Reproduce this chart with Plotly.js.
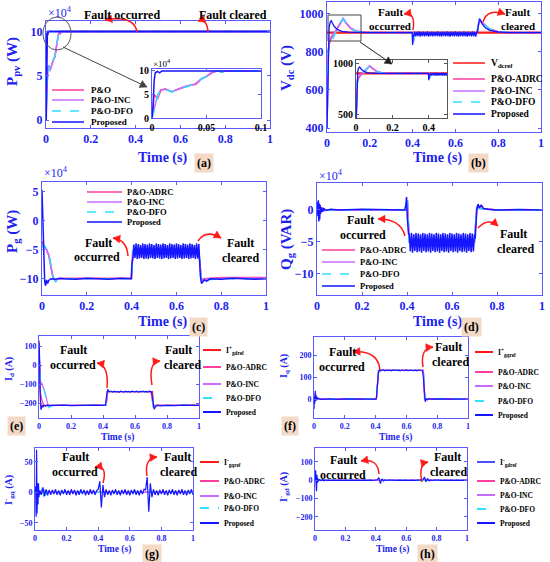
<!DOCTYPE html>
<html>
<head>
<meta charset="utf-8">
<script src="https://cdn.plot.ly/plotly-3.0.1.min.js"></script>
<style>body{margin:0;} #chart{width:550px;height:562px;}</style>
</head>
<body>
<div id="chart"></div>
<script>
// ------------------------
// shared time samples for the fault window
var tOsc = [0.410, 0.415, 0.420, 0.425, 0.430, 0.435, 0.440, 0.445, 0.450, 0.455,
  0.460, 0.465, 0.470, 0.475, 0.480, 0.485, 0.490, 0.495, 0.500, 0.505,
  0.510, 0.515, 0.520, 0.525, 0.530, 0.535, 0.540, 0.545, 0.550, 0.555,
  0.560, 0.565, 0.570, 0.575, 0.580, 0.585, 0.590, 0.595, 0.600, 0.605,
  0.610, 0.615, 0.620, 0.625, 0.630, 0.635, 0.640, 0.645, 0.650, 0.655,
  0.660, 0.665, 0.670, 0.675, 0.680, 0.685, 0.690, 0.695, 0.700];
var tFlat = [0.44, 0.45, 0.46, 0.47, 0.48, 0.49, 0.50, 0.51, 0.52, 0.53, 0.54, 0.55, 0.56, 0.57,
  0.58, 0.59, 0.60, 0.61, 0.62, 0.63, 0.64, 0.65, 0.66, 0.67, 0.68, 0.69, 0.70];

// ------------------------
// (a) PV power (x1e4 W)
var tPpv = [0, 0.001, 0.002, 0.003, 0.005, 0.007, 0.009, 0.1, 1];
var ppvProposed = [0, 2.5, 8.0, 9.6, 9.9, 9.6, 10, 10, 10];
var tPpvMppt = [0, 0.002, 0.005, 0.008, 0.012, 0.018, 0.024, 0.03, 0.035, 0.04, 0.045, 0.05, 0.055, 0.06, 0.064, 0.068, 0.075, 1];
var ppvPO = [0, 5.0, 4.0, 5.8, 6.2, 5.6, 6.1, 6.6, 7.0, 7.1, 8.2, 8.8, 9.6, 10, 9.7, 10, 10, 10];
var ppvInc = [0, 2.2, 4.8, 6.0, 6.1, 5.6, 6.1, 6.7, 6.9, 7.3, 8.3, 8.9, 9.7, 10, 9.8, 10, 10, 10];
var ppvDfo = [0, 2.0, 4.5, 6.0, 6.2, 5.5, 6.0, 6.6, 6.9, 7.2, 8.2, 8.8, 9.6, 10, 9.7, 10, 10, 10];

// ------------------------
// (b) DC link voltage (V)
var tVdcRef = [0, 1];
var vdcRef = [900, 900];
var tVdcStart = [0, 0.003, 0.006, 0.01, 0.015, 0.02, 0.025, 0.035, 0.05, 0.07, 0.1, 0.15, 0.2, 0.3, 0.398, 0.4, 0.403, 0.406];
var vdcStart = [400, 600, 800, 930, 955, 962, 950, 930, 915, 906, 902, 900, 900, 900, 900, 835, 890, 882];
var vdcOsc = [905, 880, 903, 882, 906, 879, 904, 881, 905, 880, 903, 882, 906, 879, 904, 881, 905, 880, 903, 882,
  904, 881, 906, 880, 903, 879, 905, 882, 904, 880, 906, 881, 903, 879, 905, 882, 904, 880, 906, 881,
  903, 879, 905, 882, 904, 880, 906, 881, 903, 879, 905, 882, 904, 880, 906, 881, 903, 879, 905];
var tVdcEnd = [0.703, 0.708, 0.712, 0.718, 0.725, 0.74, 0.76, 0.8, 0.85, 1];
var vdcEnd = [900, 945, 972, 965, 945, 925, 912, 903, 900, 900];
var tVdcMppt = [0, 0.003, 0.006, 0.01, 0.02, 0.04, 0.06, 0.075, 0.09, 0.11, 0.14, 0.18, 0.4, 0.403, 0.41, 0.7, 0.708, 0.715, 0.73, 0.76, 0.8, 0.85, 1];
var vdcAdrc = [400, 680, 805, 840, 870, 905, 948, 972, 948, 922, 906, 900, 900, 848, 895, 895, 942, 962, 949, 919, 905, 900, 900];
var vdcInc = [400, 650, 800, 860, 880, 910, 950, 975, 950, 925, 908, 900, 900, 850, 895, 895, 940, 960, 948, 918, 904, 900, 900];
var vdcDfo = [400, 700, 810, 820, 850, 900, 945, 970, 945, 920, 905, 900, 900, 850, 895, 895, 945, 965, 950, 920, 905, 900, 900];

// ------------------------
// (c) grid active power (x1e4 W)
var tPgStart = [0, 0.002, 0.005, 0.008, 0.012, 0.016, 0.02, 0.025, 0.03, 0.04, 0.06, 0.08, 0.1, 0.15, 0.2, 0.25, 0.3, 0.35, 0.398, 0.402, 0.406];
var pgStart = [5.3, 2, -3, -8, -10.5, -11.2, -10.2, -10.8, -10.3, -10.0, -10.1, -9.9, -10.0, -10.1, -9.9, -10.0, -10.1, -9.9, -10.0, -7.2, -6.5];
var pgOsc = [-4.1, -6.4, -3.9, -6.6, -4.0, -6.5, -4.2, -6.4, -3.9, -6.6, -4.0, -6.5, -4.1, -6.6, -3.9, -6.4, -4.0, -6.5, -4.2, -6.6,
  -3.9, -6.4, -4.0, -6.5, -4.1, -6.6, -3.9, -6.5, -4.0, -6.4, -4.2, -6.6, -3.9, -6.5, -4.0, -6.4, -4.1, -6.6, -3.9, -6.5,
  -4.0, -6.4, -4.2, -6.6, -3.9, -6.5, -4.0, -6.4, -4.1, -6.6, -3.9, -6.5, -4.0, -6.4, -4.2, -6.6, -3.9, -6.5, -4.0];
var tPgEnd = [0.703, 0.707, 0.712, 0.718, 0.725, 0.735, 0.75, 0.8, 0.85, 0.9, 0.95, 1];
var pgEnd = [-7.5, -9.5, -10.8, -10.5, -10.2, -10.4, -10.0, -10.1, -9.9, -10.0, -10.1, -10.0];
var tPgMppt = [0, 0.003, 0.006, 0.01, 0.02, 0.03, 0.04, 0.05, 0.06, 0.07, 0.1, 0.4, 0.405, 0.7, 0.712, 0.72, 0.8, 1];
var pgAdrc = [-3.5, -4.0, -4.4, -4.5, -5.0, -6.0, -8.0, -10.0, -10.3, -10.0, -9.9, -9.9, -5.2, -5.2, -10.3, -10.0, -9.8, -9.8];
var pgInc = [-4.0, -4.2, -4.6, -4.4, -4.9, -5.8, -7.8, -9.8, -10.4, -10.1, -10.0, -10.0, -5.2, -5.2, -10.4, -10.1, -9.9, -9.9];
var pgDfo = [-4.5, -4.3, -4.5, -4.2, -4.8, -5.5, -7.5, -9.5, -10.5, -10.2, -10.0, -10.0, -5.2, -5.2, -10.5, -10.2, -10.0, -10.0];

// ------------------------
// (d) grid reactive power (x1e4 VAR)
var tQgStart = [0, 0.002, 0.004, 0.006, 0.008, 0.010, 0.012, 0.014, 0.016, 0.02, 0.025, 0.03, 0.04, 0.06, 0.1, 0.2, 0.3, 0.39, 0.395, 0.398, 0.401, 0.404, 0.407];
var qgStart = [0, 1.2, -1.0, 1.5, -1.8, 1.0, -1.5, 0.8, -0.6, 0.4, -0.3, 0.2, -0.1, 0.1, 0, 0.1, 0, 0, 0.8, 2.0, -1.0, -2.5, -3.8];
var qgOsc = [-3.7, -6.5, -3.6, -6.7, -3.8, -6.4, -3.6, -6.6, -3.7, -6.5, -3.8, -6.7, -3.6, -6.4, -3.7, -6.6, -3.8, -6.5, -3.6, -6.7,
  -3.7, -6.4, -3.8, -6.6, -3.6, -6.5, -3.7, -6.7, -3.8, -6.4, -3.6, -6.6, -3.7, -6.5, -3.8, -6.7, -3.6, -6.4, -3.7, -6.6,
  -3.8, -6.5, -3.6, -6.7, -3.7, -6.4, -3.8, -6.6, -3.6, -6.5, -3.7, -6.7, -3.8, -6.4, -3.6, -6.6, -3.7, -6.5, -3.8];
var tQgEnd = [0.703, 0.707, 0.711, 0.716, 0.722, 0.73, 0.74, 0.76, 0.8, 0.9, 1];
var qgEnd = [-4.5, -2.0, 0.2, 0.9, 0.3, 0.8, 0.2, 0.1, 0, 0.05, 0];
var tQgMppt = [0, 0.005, 0.01, 0.02, 0.04, 0.398, 0.402, 0.41, 0.7, 0.71, 0.72, 0.8, 1];
var qgAdrc = [0, 0.6, -0.5, 0.3, 0, 0, 1.4, -5, -5, 0.4, 0.3, 0, 0];
var qgInc = [0, -0.4, 0.5, -0.3, 0, 0, 1.5, -5, -5, 0.5, 0.2, 0, 0];
var qgDfo = [0, -0.5, 0.4, -0.2, 0, 0, 1.5, -5, -5, 0.5, 0.2, 0, 0];

// ------------------------
// (e) d-axis current (A)
var tIdRef = [0, 0.004, 0.01, 0.42, 0.425, 0.71, 0.715, 1];
var idRef = [130, -100, -212, -212, -140, -140, -212, -212];
var tIdStart = [0, 0.003, 0.006, 0.009, 0.012, 0.015, 0.02, 0.025, 0.03, 0.04, 0.05, 0.07, 0.1, 0.15, 0.2, 0.25, 0.3, 0.35, 0.4, 0.415, 0.42, 0.425, 0.43, 0.435];
var idStart = [120, 60, -120, -200, -235, -228, -215, -222, -212, -216, -211, -214, -213, -211, -214, -212, -213, -211, -213, -212, -175, -135, -128, -138];
var idFlat = [-140, -137, -142, -138, -141, -139, -143, -137, -140, -142, -138, -141, -139, -142, -137, -140, -141, -138, -142, -139,
  -140, -137, -141, -139, -142, -138, -140];
var tIdEnd = [0.705, 0.71, 0.715, 0.72, 0.725, 0.73, 0.74, 0.76, 0.8, 0.85, 0.9, 0.95, 1];
var idEnd = [-150, -175, -215, -232, -225, -218, -213, -215, -212, -214, -211, -213, -212];
var tIdMppt = [0, 0.005, 0.01, 0.02, 0.03, 0.04, 0.05, 0.06, 0.08, 0.42, 0.43, 0.7, 0.715, 0.73, 1];
var idAdrc = [100, -20, -150, -190, -210, -215, -214, -213, -212, -212, -140, -140, -220, -212, -212];
var idInc = [80, -40, -90, -100, -120, -150, -190, -220, -212, -212, -140, -140, -222, -212, -212];
var idDfo = [60, -60, -100, -105, -125, -160, -195, -225, -212, -212, -140, -140, -225, -212, -212];

// ------------------------
// (f) q-axis current (A)
var tIqRef = [0, 0.405, 0.418, 0.71, 0.718, 1];
var iqRef = [0, 0, 130, 130, 0, 0];
var tIqStart = [0, 0.002, 0.005, 0.008, 0.011, 0.014, 0.018, 0.022, 0.03, 0.05, 0.1, 0.15, 0.2, 0.25, 0.3, 0.35, 0.4, 0.405, 0.412, 0.418, 0.425, 0.43, 0.435];
var iqStart = [-45, 10, -20, 38, -8, 15, -5, 6, 2, -1, 1, -1, 1, 0, -1, 1, 0, 2, 60, 118, 132, 128, 131];
var iqFlat = [130, 133, 128, 131, 129, 132, 128, 131, 130, 133, 129, 131, 128, 132, 130, 129, 133, 128, 131, 130,
  132, 129, 131, 128, 132, 130, 129];
var tIqEnd = [0.705, 0.71, 0.716, 0.722, 0.728, 0.735, 0.745, 0.76, 0.8, 0.9, 1];
var iqEnd = [128, 100, 30, -12, 2, -4, 2, 0, 1, -1, 0];
var tIqMppt = [0, 0.01, 0.02, 0.405, 0.42, 0.71, 0.72, 1];
var iqAdrc = [0, 25, 0, 0, 130, 130, 0, 0];
var iqInc = [0, 20, 0, 0, 130, 130, 0, 0];
var iqDfo = [0, 15, 0, 0, 130, 130, 0, 0];

// ------------------------
// (g), (h) negative sequence currents (A)
var tNegRef = [0, 1];
var negRef = [0, 0];
var tNegStart = [0, 0.004, 0.007, 0.010, 0.013, 0.016, 0.019, 0.022, 0.025];
var gqStart = [0, 10, -40, 70, -35, 15, -20, 15, -8];
var gdStart = [0, 55, -20, -60, 30, -15, 10, -5, 3];
var tNeg = [0.03, 0.04, 0.05, 0.06, 0.07, 0.08, 0.09, 0.10,
  0.11, 0.12, 0.13, 0.14, 0.15, 0.16, 0.17, 0.18, 0.19, 0.20,
  0.21, 0.22, 0.23, 0.24, 0.25, 0.26, 0.27, 0.28, 0.29, 0.30,
  0.31, 0.32, 0.33, 0.34, 0.35, 0.36, 0.37, 0.38, 0.39, 0.40,
  0.41, 0.42, 0.43, 0.44, 0.45, 0.46, 0.47, 0.48, 0.49, 0.50,
  0.51, 0.52, 0.53, 0.54, 0.55, 0.56, 0.57, 0.58, 0.59, 0.60,
  0.61, 0.62, 0.63, 0.64, 0.65, 0.66, 0.67, 0.68, 0.69, 0.70,
  0.71, 0.72, 0.73, 0.74, 0.75, 0.76, 0.77, 0.78, 0.79, 0.80,
  0.81, 0.82, 0.83, 0.84, 0.85, 0.86, 0.87, 0.88, 0.89, 0.90,
  0.91, 0.92, 0.93, 0.94, 0.95, 0.96, 0.97, 0.98, 0.99, 1.00];
var gqNoise = [3, -4, 8, -6, 5, -5, 4, -4,
  4, -3, 5, -4, 3, -5, 4, -3, 5, -4,
  3, -4, 5, -3, 4, -5, 3, -4, 5, -3,
  4, -5, 3, -4, 5, -3, 4, -4, 3, 5,
  18, -25, 12, -8, 5, -4, 3, -5, 4, -3,
  5, -4, 3, -5, 4, -3, 5, -4, 3, -5,
  4, -3, 5, -4, 3, -5, 4, -3, 5, 4,
  25, -32, 15, -8, 5, -4, 3, -5, 4, -3,
  5, -4, 3, -5, 4, -3, 5, -4, 3, -5,
  4, -3, 5, -4, 3, -5, 4, -3, 5, -4];
var gdNoise = [3, -2, 4, -3, 2, -2, 1, -1,
  1, -1, 1, -1, 1, -1, 1, -1, 1, -1,
  1, -1, 1, -1, 1, -1, 1, -1, 1, -1,
  1, -1, 1, -1, 1, -1, 1, -1, 1, 2,
  3, 15, -18, 8, -3, 2, -1, 1, -1, 1,
  1, -1, 1, -1, 1, -1, 1, -1, 1, -1,
  1, -1, 1, -1, 1, -1, 1, -1, 1, 2,
  3, 18, -8, 10, -3, 2, -1, 1, -1, 1,
  1, -1, 1, -1, 1, -1, 1, -1, 1, -1,
  1, -1, 1, -1, 1, -1, 1, -1, 1, -1];
var tNegMppt = [0, 0.02, 0.04, 0.05, 0.055, 0.06, 0.065, 0.07, 0.075, 0.08, 0.09, 0.1, 1];
var gqAdrc = [0, 3, -3, 5, -4, 4, -3, 3, -2, 1, 0, 0, 0];
var gqInc = [0, 2, -2, 4, -3, 3, -2, 2, -1, 1, 0, 0, 0];
var gqDfo = [0, 0, 3, 10, -8, 9, -6, 7, -4, 3, 0, 0, 0];
var gdAdrc = [0, 2, -2, 3, -2, 2, -1, 1, -1, 0, 0, 0, 0];
var gdInc = [0, 1, -1, 2, -2, 2, -1, 1, 0, 0, 0, 0, 0];
var gdDfo = [0, 0, 2, 8, -6, 5, -4, 3, -2, 1, 0, 0, 0];

// ------------------------
// legend labels
var namesA = ['P&amp;O', 'P&amp;O-INC', 'P&amp;O-DFO', 'Proposed'];
var namesMppt = ['P&amp;O-ADRC', 'P&amp;O-INC', 'P&amp;O-DFO', 'Proposed'];
var refNames = ['V<sub>dcref</sub>', 'I<sup>+</sup><sub>gdref</sub>', 'I<sup>+</sup><sub>gqref</sub>',
  'I<sup>-</sup><sub>gqref</sub>', 'I<sup>-</sup><sub>gdref</sub>'];

// ------------------------
// styles and helpers
var W = 550, H = 562;
var serif = 'Liberation Serif';
var blue = '#1e1ef0';
var frame = '#5a5aff';
var cRef = '#ff1a1a', cAdrc = '#ff3d9e', cInc = '#c86bff', cDfo = '#2fe0ff', cProp = '#1515ff';

function px(x) { return x / W; }
function py(y) { return 1 - y / H; }

function xAxis(left, right, range, anchor, size, dtick, color, lineColor) {
  return {
    domain: [px(left), px(right)], range: range, anchor: anchor,
    showline: true, mirror: 'ticks', linecolor: lineColor || frame, linewidth: 1,
    ticks: 'inside', ticklen: 3, tickcolor: lineColor || frame, tick0: 0, dtick: dtick,
    showgrid: false, zeroline: false, fixedrange: true,
    tickfont: {family: serif, size: size, color: color || blue, weight: 'bold'}
  };
}
function yAxis(top, bottom, range, anchor, size, dtick, color, lineColor) {
  var a = xAxis(0, 1, range, anchor, size, dtick, color, lineColor);
  a.domain = [py(bottom), py(top)];
  return a;
}

var traces = [];
function addLine(x, y, ax, color, width, dash) {
  traces.push({x: x, y: y, xaxis: 'x' + ax, yaxis: 'y' + ax, type: 'scatter', mode: 'lines',
    line: {color: color, width: width, dash: dash || 'solid'}, hoverinfo: 'skip', showlegend: false});
}

var shapes = [];
var notes = [];
function label(x, y, s, size, color, extra) {
  var a = {xref: 'paper', yref: 'paper', x: px(x), y: py(y), text: s, showarrow: false,
    xanchor: 'center', yanchor: 'middle',
    font: {family: serif, size: size, color: color, weight: 'bold'}};
  for (var k in extra) a[k] = extra[k];
  notes.push(a);
}
// small filled triangle pointing from (fx, fy) towards the tip (x1, y1)
function head(fx, fy, x1, y1, color, size) {
  var dx = x1 - fx, dy = y1 - fy, len = Math.sqrt(dx * dx + dy * dy);
  dx /= len; dy /= len;
  var bx = x1 - size * dx, by = y1 - size * dy, w = size * 0.55;
  shapes.push({type: 'path', xref: 'paper', yref: 'paper', fillcolor: color, line: {color: color, width: 0.5},
    path: 'M' + px(x1) + ',' + py(y1) + ' L' + px(bx - w * dy) + ',' + py(by + w * dx) +
      ' L' + px(bx + w * dy) + ',' + py(by - w * dx) + ' Z'});
}
function curvedArrow(x0, y0, cx, cy, x1, y1) {
  shapes.push({type: 'path', xref: 'paper', yref: 'paper',
    path: 'M' + px(x0) + ',' + py(y0) + ' Q' + px(cx) + ',' + py(cy) + ' ' + px(x1) + ',' + py(y1),
    line: {color: cRef, width: 1.5}});
  head(cx, cy, x1, y1, cRef, 7);
}
function straightArrow(x0, y0, x1, y1, color) {
  shapes.push({type: 'line', xref: 'paper', yref: 'paper', x0: px(x0), y0: py(y0), x1: px(x1), y1: py(y1),
    line: {color: color, width: 1}});
  head(x0, y0, x1, y1, color, 7);
}
function legendBox(x0, x1, tx, ys, names, colors, dashes, size, lw) {
  for (var i = 0; i < names.length; i++) {
    shapes.push({type: 'line', xref: 'paper', yref: 'paper', x0: px(x0), x1: px(x1), y0: py(ys[i]), y1: py(ys[i]),
      line: {color: colors[i], width: lw, dash: dashes[i]}});
    label(tx, ys[i], names[i], size, 'black', {xanchor: 'left'});
  }
}
function tag(x, y, s) {
  label(x, y, s, 12, 'black', {bgcolor: '#f3d9c6', borderpad: 2});
}

// ------------------------
// traces
[['', 2], ['9', 1.5]].forEach(function (p) {
  addLine(tPpvMppt, ppvPO, p[0], cAdrc, 1.5);
  addLine(tPpvMppt, ppvInc, p[0], cInc, 1.5);
  addLine(tPpvMppt, ppvDfo, p[0], cDfo, 1.5, 'dash');
  addLine(tPpv, ppvProposed, p[0], cProp, p[1]);
});
['2', '10'].forEach(function (ax) {
  addLine(tVdcRef, vdcRef, ax, cRef, 2.2);
  addLine(tVdcMppt, vdcAdrc, ax, cAdrc, 1.5);
  addLine(tVdcMppt, vdcInc, ax, cInc, 1.5);
  addLine(tVdcMppt, vdcDfo, ax, cDfo, 1.5, 'dash');
  addLine(tVdcStart.concat(tOsc, tVdcEnd), vdcStart.concat(vdcOsc, vdcEnd), ax, cProp, 1.3);
});
addLine(tPgMppt, pgAdrc, '3', cAdrc, 1.5);
addLine(tPgMppt, pgInc, '3', cInc, 1.5);
addLine(tPgMppt, pgDfo, '3', cDfo, 1.5, 'dash');
addLine(tPgStart.concat(tOsc, tPgEnd), pgStart.concat(pgOsc, pgEnd), '3', cProp, 1.5);

addLine(tQgMppt, qgAdrc, '4', cAdrc, 1.5);
addLine(tQgMppt, qgInc, '4', cInc, 1.5);
addLine(tQgMppt, qgDfo, '4', cDfo, 1.5, 'dash');
addLine(tQgStart.concat(tOsc, tQgEnd), qgStart.concat(qgOsc, qgEnd), '4', cProp, 1.5);

addLine(tIdRef, idRef, '5', cRef, 1.2);
addLine(tIdMppt, idAdrc, '5', cAdrc, 1.2);
addLine(tIdMppt, idInc, '5', cInc, 1.2);
addLine(tIdMppt, idDfo, '5', cDfo, 1.2, 'dash');
addLine(tIdStart.concat(tFlat, tIdEnd), idStart.concat(idFlat, idEnd), '5', cProp, 1.2);

addLine(tIqRef, iqRef, '6', cRef, 1.2);
addLine(tIqMppt, iqAdrc, '6', cAdrc, 1.2);
addLine(tIqMppt, iqInc, '6', cInc, 1.2);
addLine(tIqMppt, iqDfo, '6', cDfo, 1.2, 'dash');
addLine(tIqStart.concat(tFlat, tIqEnd), iqStart.concat(iqFlat, iqEnd), '6', cProp, 1.2);

addLine(tNegRef, negRef, '7', cRef, 1.2);
addLine(tNegMppt, gqAdrc, '7', cAdrc, 1.2);
addLine(tNegMppt, gqInc, '7', cInc, 1.2);
addLine(tNegMppt, gqDfo, '7', cDfo, 1.2, 'dash');
addLine(tNegStart.concat(tNeg), gqStart.concat(gqNoise), '7', cProp, 1.2);

addLine(tNegRef, negRef, '8', '#4d4dff', 1.2);
addLine(tNegMppt, gdAdrc, '8', cAdrc, 1.2);
addLine(tNegMppt, gdInc, '8', cInc, 1.2);
addLine(tNegMppt, gdDfo, '8', cDfo, 1.2, 'dash');
addLine(tNegStart.concat(tNeg), gdStart.concat(gdNoise), '8', cProp, 1.2);

// ------------------------
// texts: axis titles, exponents, panel tags
var yt = {textangle: -90};
label(13, 62, 'P<sub>pv</sub> (W)', 15, blue, yt);
label(287, 68, 'V<sub>dc</sub> (V)', 15, blue, yt);
label(13, 232, 'P<sub>g</sub> (W)', 15, blue, yt);
label(287, 240, 'Q<sub>g</sub> (VAR)', 15, blue, yt);
label(9, 369, 'I<sub>d</sub> (A)', 10, blue, yt);
label(284, 366, 'I<sub>q</sub> (A)', 10, blue, yt);
label(9, 490, 'I<sup>-</sup><sub>gq</sub> (A)', 10, blue, yt);
label(284, 487, 'I<sup>-</sup><sub>gd</sub> (A)', 10, blue, yt);

label(162, 158, 'Time (s)', 14, blue);
label(437, 158, 'Time (s)', 14, blue);
label(162, 322, 'Time (s)', 14, blue);
label(437, 322, 'Time (s)', 14, blue);
label(117, 437, 'Time (s)', 9.5, blue);
label(395, 437, 'Time (s)', 9.5, blue);
label(115, 549, 'Time (s)', 9.5, blue);
label(392, 549, 'Time (s)', 9.5, blue);

var ex = {xanchor: 'left', font: {family: serif, size: 12, color: blue}};
label(46, 13, '\u00d710<sup>4</sup>', 12, blue, ex);
label(42, 173, '\u00d710<sup>4</sup>', 12, blue, ex);
label(317, 175, '\u00d710<sup>4</sup>', 12, blue, ex);
label(151, 63, '\u00d710<sup>4</sup>', 9, 'black', {xanchor: 'left', font: {family: serif, size: 9, color: 'black'}});

tag(204, 163, '(a)');
tag(478, 163, '(b)');
tag(198, 327, '(c)');
tag(471, 327, '(d)');
tag(16, 426, '(e)');
tag(290, 426, '(f)');
tag(152, 554, '(g)');
tag(427, 554, '(h)');

// fault texts and red arrows
label(122, 15, 'Fault occurred', 12, 'black');
label(233, 15, 'Fault cleared', 12, 'black');
curvedArrow(137, 32, 134, 15, 105, 20);
curvedArrow(208, 32, 207, 18, 198, 21);

label(390, 12, 'Fault', 11, 'black');
label(390, 26, 'occurred', 11, 'black');
label(517, 12, 'Fault', 11, 'black');
label(518, 26, 'cleared', 11, 'black');
curvedArrow(413, 30, 416, 12, 404, 14);
curvedArrow(483, 22, 487, 8, 505, 14);

label(98, 243, 'Fault', 12, 'black');
label(97, 257, 'occurred', 12, 'black');
label(240, 243, 'Fault', 12, 'black');
label(240, 258, 'cleared', 12, 'black');
curvedArrow(128, 256, 127, 240, 113, 238);
curvedArrow(198, 241, 206, 229, 221, 238);

label(360, 220, 'Fault', 12, 'black');
label(363, 235, 'occurred', 12, 'black');
label(513, 234, 'Fault', 12, 'black');
label(515, 249, 'cleared', 12, 'black');
curvedArrow(405, 236, 401, 219, 378, 219);
curvedArrow(478, 228, 488, 217, 498, 226);

label(73, 350, 'Fault', 12, 'black');
label(73, 365, 'occurred', 12, 'black');
label(178, 350, 'Fault', 12, 'black');
label(182, 365, 'cleared', 12, 'black');
curvedArrow(107, 388, 109, 365, 97, 363);
curvedArrow(152, 385, 148, 362, 160, 361);

label(342, 352, 'Fault', 12, 'black');
label(342, 367, 'occurred', 12, 'black');
label(448, 347, 'Fault', 12, 'black');
label(450, 362, 'cleared', 12, 'black');
curvedArrow(380, 370, 378, 350, 353, 352);
curvedArrow(423, 367, 420, 348, 433, 347);

label(75, 457, 'Fault', 12, 'black');
label(75, 472, 'occurred', 12, 'black');
label(177, 457, 'Fault', 12, 'black');
label(178, 472, 'cleared', 12, 'black');
curvedArrow(103, 483, 108, 465, 95, 467);
curvedArrow(147, 476, 144, 458, 157, 457);

label(343, 460, 'Fault', 12, 'black');
label(343, 475, 'occurred', 12, 'black');
label(447, 457, 'Fault', 12, 'black');
label(448, 472, 'cleared', 12, 'black');
curvedArrow(379, 474, 378, 458, 361, 461);
curvedArrow(422, 482, 418, 464, 428, 462);

// zoom markers
shapes.push({type: 'circle', xref: 'paper', yref: 'paper', x0: px(43), x1: px(71), y0: py(50), y1: py(17),
  line: {color: '#555555', width: 1}});
straightArrow(63, 47, 147, 87, '#444444');
shapes.push({type: 'rect', xref: 'paper', yref: 'paper', x0: px(328), x1: px(361), y0: py(41), y1: py(15),
  line: {color: '#444444', width: 1}});
straightArrow(360, 42, 392, 64, '#222222');

// legends
var cols4 = [cAdrc, cInc, cDfo, cProp];
var dash4 = ['solid', 'solid', 'dash', 'solid'];
legendBox(52, 84, 89, [90, 100, 111, 122], namesA, cols4, dash4, 9, 1.5);
legendBox(453, 485, 489, [63, 79, 91, 102, 114], [refNames[0]].concat(namesMppt),
  [cRef].concat(cols4), ['solid'].concat(dash4), 9.5, 1.5);
legendBox(87, 122, 125, [192, 202, 212, 222], namesMppt, cols4, dash4, 8.5, 1.5);
legendBox(322, 355, 358, [250, 262, 274, 286], namesMppt, cols4, dash4, 8.5, 1.5);
legendBox(203, 221, 224, [350, 367, 384, 398, 412], [refNames[1]].concat(namesMppt),
  [cRef].concat(cols4), ['solid'].concat(dash4), 7.5, 2);
legendBox(475, 493, 496, [352, 372, 386, 401, 415], [refNames[2]].concat(namesMppt),
  [cRef].concat(cols4), ['solid'].concat(dash4), 7.5, 2);
legendBox(200, 219, 222, [462, 481, 496, 508, 523], [refNames[3]].concat(namesMppt),
  [cRef].concat(cols4), ['solid'].concat(dash4), 7.5, 2);
legendBox(477, 495, 498, [462, 481, 495, 509, 523], [refNames[4]].concat(namesMppt),
  ['#4d4dff'].concat(cols4), ['solid'].concat(dash4), 7.5, 2);

// ------------------------
// layout
var layout = {
  width: W, height: H, margin: {l: 0, r: 0, t: 0, b: 0},
  paper_bgcolor: 'white', plot_bgcolor: 'white', showlegend: false,
  xaxis: xAxis(46, 270, [0, 1], 'y', 12, 0.2),
  yaxis: yAxis(21, 128, [-0.9, 11.2], 'x', 12, 5),
  xaxis2: xAxis(327, 541, [0, 1], 'y2', 12, 0.2),
  yaxis2: yAxis(2, 132, [380, 1060], 'x2', 12, 200),
  xaxis3: xAxis(42, 266, [0, 1], 'y3', 12, 0.2),
  yaxis3: yAxis(182, 295, [-12.8, 6.7], 'x3', 12, 5),
  xaxis4: xAxis(317, 542, [0, 1], 'y4', 12, 0.2),
  yaxis4: yAxis(183, 295, [-13.3, 4.2], 'x4', 12, 5),
  xaxis5: xAxis(39, 199, [0, 1], 'y5', 8, 0.2),
  yaxis5: yAxis(336, 418, [-279, 153], 'x5', 8, 100),
  xaxis6: xAxis(314, 468, [0, 1], 'y6', 8, 0.2),
  yaxis6: yAxis(337, 418, [-86, 282], 'x6', 8, 100),
  xaxis7: xAxis(35, 193, [0, 1], 'y7', 8, 0.2),
  yaxis7: yAxis(448, 530, [-62, 73], 'x7', 8, 50),
  xaxis8: xAxis(315, 467, [0, 1], 'y8', 8, 0.2),
  yaxis8: yAxis(448, 530, [-271, 176], 'x8', 8, 100),
  xaxis9: xAxis(152, 261, [0, 0.1], 'y9', 10, 0.05, 'black'),
  yaxis9: yAxis(69, 118, [0, 10.4], 'x9', 10, 5, 'black'),
  xaxis10: xAxis(356, 447, [0, 0.5], 'y10', 10, 0.2, 'black', '#555555'),
  yaxis10: yAxis(60, 118, [470, 1030], 'x10', 10, 500, 'black', '#555555'),
  shapes: shapes,
  annotations: notes
};
layout.yaxis6.tickmode = 'array';
layout.yaxis6.tickvals = [0, 100, 200];

Plotly.newPlot('chart', traces, layout, {displayModeBar: false, staticPlot: true});
</script>
</body>
</html>
